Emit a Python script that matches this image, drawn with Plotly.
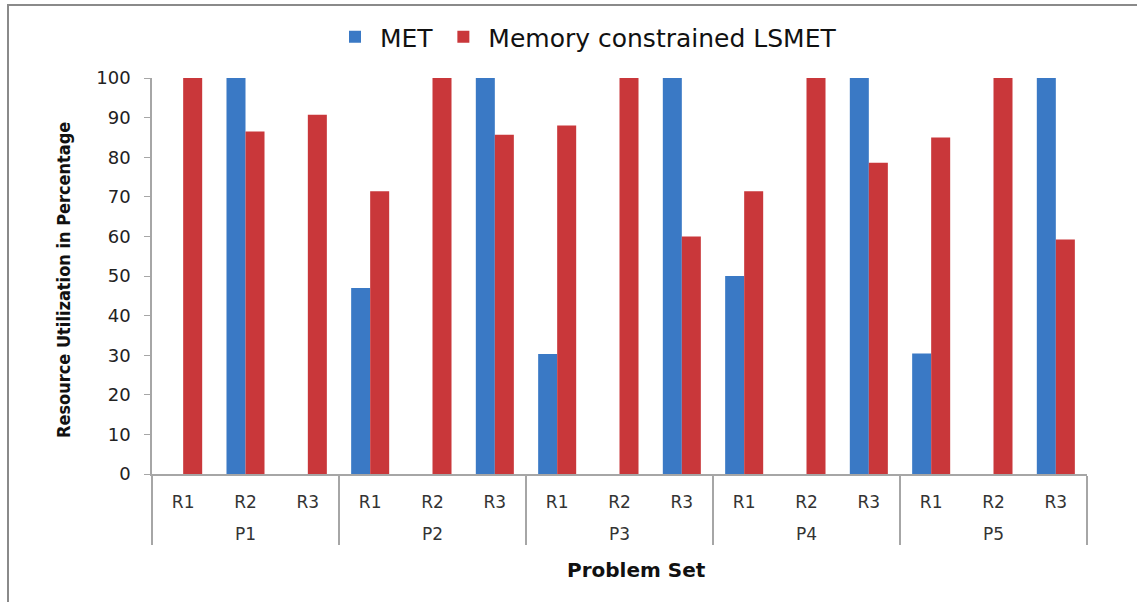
import plotly.graph_objects as go

# Problem sets and resources
problems = ["P1", "P2", "P3", "P4", "P5"]
resources = ["R1", "R2", "R3"]

# Resource utilization (%) per problem set, R1..R3
met = [
    [0, 100, 0],
    [47, 0, 100],
    [30.3, 0, 100],
    [50, 0, 100],
    [30.4, 0, 100],
]
lsmet = [
    [100, 86.5, 90.7],
    [71.4, 100, 85.7],
    [88, 100, 60],
    [71.4, 100, 78.6],
    [85, 100, 59.2],
]

y_ticks = list(range(0, 101, 10))

# outer row gets a leading blank line so it sits lower under the resource row
x_outer = ["<br>" + p for p in problems for _ in resources]
x_inner = [r for _ in problems for r in resources]
met_flat = [v for row in met for v in row]
lsmet_flat = [v for row in lsmet for v in row]

W, H = 1137, 602
L, R, T, B = 152, 50, 78, 128
pw, ph = W - L - R, H - T - B


def px_x(px):
    return (px - L) / pw


def px_y(py):
    return (H - B - py) / ph


fig = go.Figure()
fig.add_trace(go.Bar(
    x=[x_outer, x_inner], y=met_flat, name="MET",
    marker=dict(color="#3a79c5", line=dict(width=0)),
))
fig.add_trace(go.Bar(
    x=[x_outer, x_inner], y=lsmet_flat, name="Memory constrained LSMET",
    marker=dict(color="#c9373a", line=dict(width=0)),
))

fig.update_layout(
    width=W, height=H,
    margin=dict(l=L, r=R, t=T, b=B),
    paper_bgcolor="white", plot_bgcolor="white",
    barmode="group", bargap=0.39, bargroupgap=0,
    font=dict(family="DejaVu Sans", size=17, color="#222"),
    showlegend=True,
    legend=dict(
        orientation="h", x=px_x(586), xanchor="center", y=px_y(37), yanchor="middle",
        font=dict(family="DejaVu Sans", size=25, color="#111"),
        itemwidth=40, traceorder="normal",
    ),
    xaxis=dict(
        type="multicategory", showline=True, linecolor="#a6a6a6", linewidth=1.5,
        showgrid=False, ticks="", showdividers=True, dividercolor="#a6a6a6",
        dividerwidth=1.5, ticklabelstandoff=12,
        tickfont=dict(family="DejaVu Sans", size=17, color="#333"),
    ),
    yaxis=dict(
        range=[0, 100], tickvals=y_ticks, showline=True, linecolor="#a6a6a6",
        linewidth=1.5, showgrid=False, zeroline=False, ticks="outside",
        ticklen=6, tickcolor="#a6a6a6", ticklabelstandoff=10,
        tickfont=dict(family="DejaVu Sans", size=18, color="#222"),
    ),
    annotations=[
        dict(text="<b>Problem Set</b>", xref="paper", yref="paper",
             x=px_x(636), y=px_y(570), xanchor="center", yanchor="middle",
             showarrow=False, font=dict(family="DejaVu Sans", size=20, color="#111")),
        dict(text="<b>Resource Utilization in Percentage</b>", xref="paper", yref="paper",
             x=px_x(63), y=px_y(280), xanchor="center", yanchor="middle", textangle=-90,
             showarrow=False,
             font=dict(family="DejaVu Sans Condensed, Liberation Sans Narrow, sans-serif",
                       size=18, color="#111")),
    ],
    shapes=[
        dict(type="rect", xref="paper", yref="paper",
             x0=px_x(8), x1=px_x(W + 20), y0=px_y(5), y1=px_y(H + 20),
             line=dict(color="#8a8a8a", width=2), fillcolor="rgba(0,0,0,0)"),
    ],
)

fig.write_html("out.html")
